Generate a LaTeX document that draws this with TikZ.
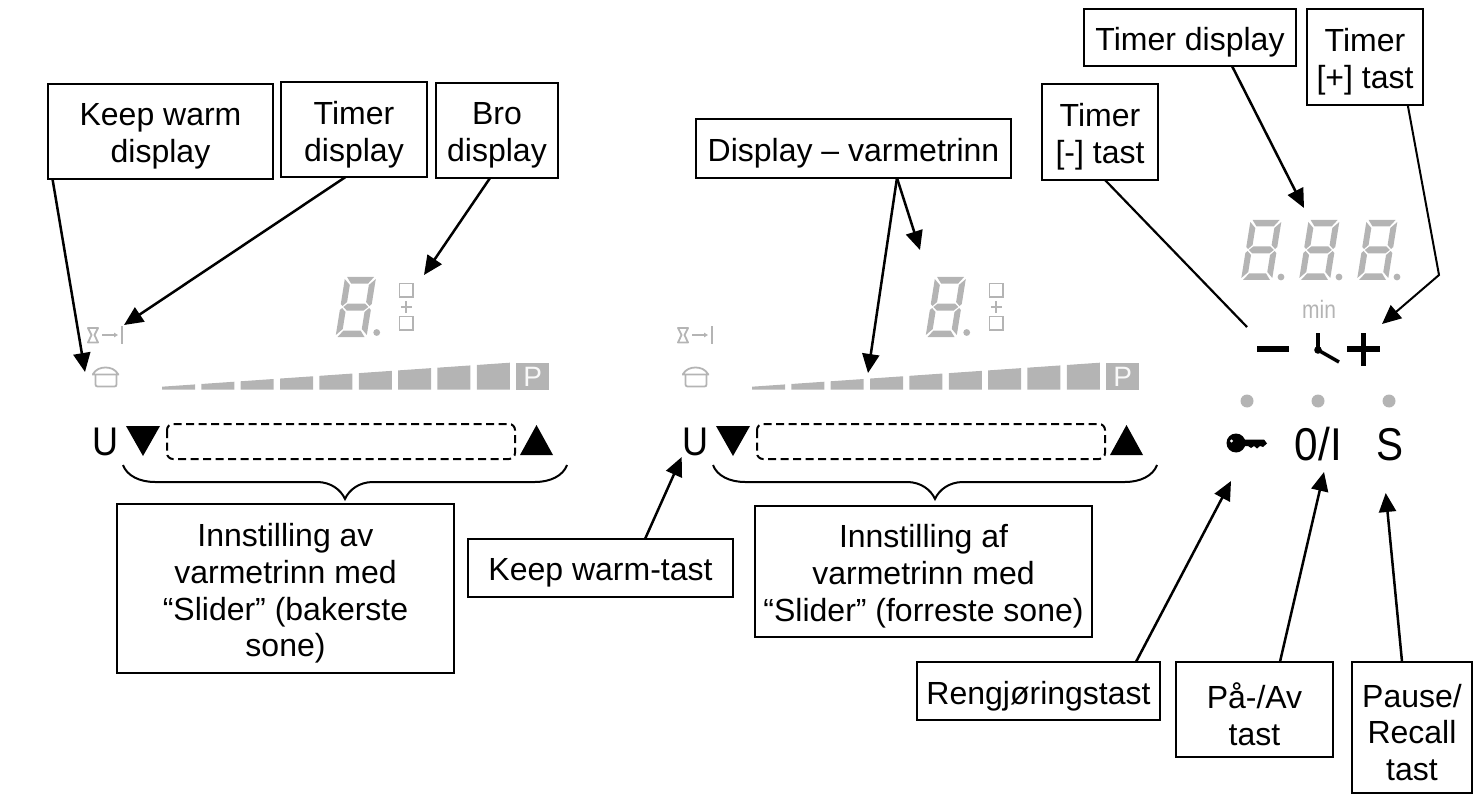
\documentclass[tikz,border=0pt]{standalone}
\usepackage{fontspec}
\setmainfont{Liberation Sans}
\usetikzlibrary{arrows.meta,calc}
\definecolor{lcd}{HTML}{B4B4B4}
\tikzset{
  x=1pt,y=-1pt,
  lbl/.style={draw=black,line width=2pt,fill=white,inner sep=0pt,outer sep=0pt},
  lbltext/.style={align=center,inner sep=0pt,outer sep=0pt,yshift=-5pt,
    font=\fontsize{32}{36.8}\selectfont},
  arr/.style={line width=2.5pt,-{Triangle[length=19pt,width=17pt]}},
  plainline/.style={line width=2.2pt},
  seg/.style={fill=lcd,draw=none},
  ico/.style={draw=lcd,line width=1.8pt},
  keysym/.style={inner sep=0pt,outer sep=0pt,anchor=base},
}
% text box: name, cx, cy, width, height, text
\newcommand\tbox[6]{\node[lbl,minimum width=#4pt,minimum height=#5pt,label={[lbltext,name=#1text]center:{#6}}] (#1) at (#2,#3) {};}
% seven segment digit: #1,#2 = bottom-left corner
\newcommand\sevenseg[2]{%
 \begin{scope}[shift={(#1,#2)},xslant=0.16]
  \fill[seg] (3,-60)--(30,-60)--(25,-53.5)--(8,-53.5)--cycle;
  \fill[seg] (4,-30)--(8,-33.5)--(25,-33.5)--(29,-30)--(25,-26.5)--(8,-26.5)--cycle;
  \fill[seg] (8,-6.5)--(25,-6.5)--(30,0)--(3,0)--cycle;
  \fill[seg] (1,-58)--(7,-52)--(7,-35)--(3,-31)--(1,-33)--cycle;
  \fill[seg] (32,-58)--(26,-52)--(26,-35)--(30,-31)--(32,-33)--cycle;
  \fill[seg] (1,-27)--(3,-29)--(7,-25)--(7,-8)--(1,-2)--cycle;
  \fill[seg] (32,-27)--(30,-29)--(26,-25)--(26,-8)--(32,-2)--cycle;
 \end{scope}}
% one display panel, #1 = name suffix, #2 = x offset
\newcommand\cookpanel[2]{%
 \begin{scope}[xshift=#2pt]
  % hourglass + arrow + bar
  \draw[ico,line join=round] (88,328)--(98,328)--(94.5,335)--(98,342.5)--(88,342.5)--(91.5,335)--cycle;
  \draw[ico,-{Triangle[length=4pt,width=4.5pt]}] (102,335)--(118,335);
  \draw[ico] (122,326)--(122,344);
  % pot
  \draw[ico] (92,374.5)--(119,374.5) (93,374) .. controls (96,369) and (101,367.5) .. (105.5,367.5) .. controls (110,367.5) and (115,369) .. (118,374);
  \draw[ico,rounded corners=2pt] (95.5,375)--(95.5,386.5)--(116.5,386.5)--(116.5,375);
  % digit, dot
  \sevenseg{334.5}{337}
  \fill[lcd] (376.7,332.5) circle (3.4);
  % bridge
  \draw[ico] (399.5,283.5) rectangle (413,297);
  \draw[ico] (399.5,316.5) rectangle (413,330);
  \draw[ico] (401,306.7)--(411.5,306.7) (406.2,301)--(406.2,312.5);
  % bars
  \foreach \i in {0,...,8}{
    \pgfmathsetmacro\xa{162+39.35*\i}
    \pgfmathsetmacro\xb{\xa+33}
    \pgfmathsetmacro\ya{386.7-0.069*(\xa-162)}
    \pgfmathsetmacro\yb{386.7-0.069*(\xb-162)}
    \fill[lcd] (\xa,389.5)--(\xa,\ya)--(\xb,\yb)--(\xb,389.5)--cycle;
  }
  \fill[lcd] (516.3,362.7) rectangle (549,389.5);
  \node[keysym,text=white!92!lcd,font=\fontsize{28}{28}\selectfont] (pP#1) at (532.6,386) {P};
  % keys
  \node[keysym,font=\fontsize{40}{40}\selectfont,xscale=0.9] (keyU#1) at (105,455) {U};
  \fill (126,426)--(160,426)--(143,456)--cycle;
  \fill (520,455)--(553,455)--(536.5,425)--cycle;
  \draw[line width=2pt,dash pattern=on 8pt off 4.5pt,rounded corners=6pt] (167,424) rectangle (515,459);
  % brace
  \draw[line width=2pt] (123,465) .. controls (127,476) and (140,482) .. (155,482) -- (317,482)
     .. controls (331,482) and (341,490) .. (345,499)
     .. controls (349,490) and (359,482) .. (373,482) -- (535,482)
     .. controls (550,482) and (563,476) .. (567,465);
 \end{scope}}
\begin{document}
\begin{tikzpicture}
\useasboundingbox (0,0) rectangle (1477,794);
\cookpanel{a}{0}
\cookpanel{b}{590}
% right display
\sevenseg{1240}{280}
\sevenseg{1298}{280}
\sevenseg{1356}{280}
\fill[lcd] (1281,277) circle (3.4) (1339,277) circle (3.4) (1397,277) circle (3.4);
\node[keysym,text=lcd,font=\fontsize{21}{21}\selectfont,yscale=1.2] (minlabel) at (1319,318) {min};
% timer keys
\fill (1257,346) rectangle (1289,352);
\fill (1347,346.3) rectangle (1380,351.7);
\fill (1360.5,333) rectangle (1365.8,366);
\draw[line width=4.5pt] (1318,333)--(1318,350);
\draw[line width=3.5pt] (1318,350)--(1339,362);
\fill (1318,350) circle (3.8);
\fill[lcd] (1247,401) circle (6.5) (1318,401) circle (6.5) (1389,401) circle (6.5);
% key symbol
\fill (1236,443) circle (9.5);
\fill (1240,439.5)--(1264,439.5)--(1267,443.5)--(1263,447)--(1260,446)--(1257,448.5)--(1254,446)--(1251,448)--(1248,446)--(1240,446.5)--cycle;
\fill[white] (1231.5,441) circle (1.7);
\node[keysym,font=\fontsize{46}{46}\selectfont,xscale=0.92] (keyOnOff) at (1318.5,460) {0/I};
\node[keysym,font=\fontsize{46}{46}\selectfont,xscale=0.88] (keyS) at (1389.5,460) {S};
% boxes
\tbox{kw}{160.5}{131.5}{225}{95}{Keep warm\\display}
\tbox{tl}{354}{129.5}{146}{95}{Timer\\display}
\tbox{bro}{497}{130.5}{122}{95}{Bro\\display}
\tbox{innb}{285.5}{588.5}{337}{169}{Innstilling av\\varmetrinn med\\“Slider” (bakerste\\sone)}
\tbox{kt}{600.5}{568}{265}{58}{Keep warm-tast}
\tbox{innf}{923.5}{571.5}{337}{131}{Innstilling af\\varmetrinn med\\“Slider” (forreste sone)}
\tbox{disp}{853.5}{148.5}{315}{59}{Display – varmetrinn}
\tbox{tm}{1100}{132}{116}{96}{Timer\\{[-]} tast}
\tbox{td}{1190}{37.5}{212}{57}{Timer display}
\tbox{tp}{1365}{57}{115.5}{96}{Timer\\{[+]} tast}
\tbox{reng}{1038.5}{691}{243}{58}{Rengjøringstast}
\tbox{paa}{1254.5}{709.5}{157}{95}{På-/Av\\tast}
\tbox{pause}{1412}{727.5}{120}{131}{Pause/\\Recall\\tast}
% free ends
\coordinate (tipKw) at (85,372);
\coordinate (tipTl) at (124,325);
\coordinate (tipBro) at (424,275);
\coordinate (tipDa) at (920,250);
\coordinate (tipDb) at (868,373);
\coordinate (endTm) at (1247,327);
\coordinate (tipTd) at (1304,208);
\coordinate (elbowTp) at (1439,275);
\coordinate (tipTp) at (1382,324);
\coordinate (tipKt) at (681.7,457);
\coordinate (tipReng) at (1231,481);
\coordinate (tipPaa) at (1324,472);
\coordinate (tipPause) at (1385.7,493);
% connectors
\draw[arr] ($(kw.south west)!0.02!(kw.south east)$) -- (tipKw);
\draw[arr] ($(tl.south west)!0.442!(tl.south east)$) -- (tipTl);
\draw[arr] ($(bro.south west)!0.443!(bro.south east)$) -- (tipBro);
\draw[arr] ($(disp.south west)!0.638!(disp.south east)$) -- (tipDa);
\draw[arr] ($(disp.south west)!0.638!(disp.south east)$) -- (tipDb);
\draw[plainline] ($(tm.south west)!0.543!(tm.south east)$) -- (endTm);
\draw[arr] ($(td.south west)!0.698!(td.south east)$) -- (tipTd);
\draw[arr,line width=2pt] ($(tp.south west)!0.87!(tp.south east)$) -- (elbowTp) -- (tipTp);
\draw[arr] ($(kt.north west)!0.668!(kt.north east)$) -- (tipKt);
\draw[arr] ($(reng.north west)!0.901!(reng.north east)$) -- (tipReng);
\draw[arr] ($(paa.north west)!0.662!(paa.north east)$) -- (tipPaa);
\draw[arr] ($(pause.north west)!0.417!(pause.north east)$) -- (tipPause);
\end{tikzpicture}
\end{document}
